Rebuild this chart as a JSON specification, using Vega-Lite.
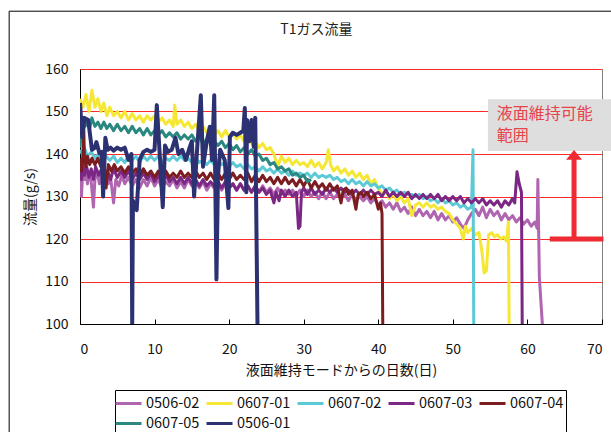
{
  "$schema": "https://vega.github.io/schema/vega-lite/v6.json",
  "width": 522,
  "height": 255,
  "autosize": {"type": "none"},
  "padding": {"left": 80, "top": 69, "right": 9, "bottom": 108},
  "background": "white",
  "config": {
    "font": "Noto Sans CJK JP",
    "view": {"stroke": "#808080"},
    "legend": {
      "orient": "none",
      "legendX": 35,
      "legendY": 321,
      "direction": "horizontal",
      "columns": 5,
      "symbolType": "M-1.3,0L1.3,0",
      "symbolSize": 400,
      "symbolStrokeWidth": 3,
      "labelFontSize": 14.5,
      "labelColor": "#111",
      "labelOffset": 6,
      "columnPadding": 0,
      "rowPadding": 2,
      "padding": 2,
      "strokeColor": "black"
    }
  },
  "datasets": {
    "ttl": [{"t": "T1ガス流量", "d": 31.7, "v": 169.2}],
    "border": [{"x1": -9.5, "x2": 76, "y1": 173.6, "y2": 60}],
    "box": [{"x1": 54.7, "x2": 72, "y1": 152.9, "y2": 140.7}],
    "notes": [{"t": "液面維持可能", "d": 55.9, "v": 149.45}, {"t": "範囲", "d": 55.9, "v": 144.2}],
    "hline": [{"d1": 63.0, "d2": 70.2, "v": 120}],
    "vline": [{"d": 66.25, "v1": 120, "v2": 139}],
    "head": [{"d": 66.25, "v": 139.8}],
    "flow": [
      {"s":"0506-02","d":0,"v":136},{"s":"0506-02","d":0.2,"v":130},{"s":"0506-02","d":0.4,"v":137},{"s":"0506-02","d":0.6,"v":134},{"s":"0506-02","d":0.8,"v":136.5},{"s":"0506-02","d":1.0,"v":133},{"s":"0506-02","d":1.2,"v":135.5},{"s":"0506-02","d":1.5,"v":133.5},{"s":"0506-02","d":1.8,"v":127.5},{"s":"0506-02","d":2.0,"v":134},{"s":"0506-02","d":2.3,"v":136},{"s":"0506-02","d":2.6,"v":133},{"s":"0506-02","d":2.9,"v":135},{"s":"0506-02","d":3.2,"v":132.5},{"s":"0506-02","d":3.5,"v":135.5},{"s":"0506-02","d":3.8,"v":133},{"s":"0506-02","d":4.1,"v":134.5},{"s":"0506-02","d":4.5,"v":128.5},{"s":"0506-02","d":4.8,"v":134},{"s":"0506-02","d":5.2,"v":132.5},{"s":"0506-02","d":5.6,"v":135},{"s":"0506-02","d":6.0,"v":133},{"s":"0506-02","d":6.5,"v":134.5},{"s":"0506-02","d":7.0,"v":132.5},{"s":"0506-02","d":7.5,"v":134},{"s":"0506-02","d":8.0,"v":132},{"s":"0506-02","d":8.5,"v":134},{"s":"0506-02","d":9.0,"v":132.5},{"s":"0506-02","d":9.5,"v":134.5},{"s":"0506-02","d":10,"v":132.5},{"s":"0506-02","d":10.5,"v":134},{"s":"0506-02","d":11,"v":132},{"s":"0506-02","d":11.5,"v":133.5},{"s":"0506-02","d":12,"v":132.5},{"s":"0506-02","d":12.5,"v":134},{"s":"0506-02","d":13,"v":132},{"s":"0506-02","d":13.5,"v":133.5},{"s":"0506-02","d":14,"v":132},{"s":"0506-02","d":14.5,"v":134},{"s":"0506-02","d":15,"v":132.5},{"s":"0506-02","d":15.5,"v":133.5},{"s":"0506-02","d":16,"v":132},{"s":"0506-02","d":16.5,"v":133.5},{"s":"0506-02","d":17,"v":131.5},{"s":"0506-02","d":17.5,"v":133},{"s":"0506-02","d":18,"v":132},{"s":"0506-02","d":18.5,"v":133.5},{"s":"0506-02","d":19,"v":131.5},{"s":"0506-02","d":19.5,"v":133},{"s":"0506-02","d":20,"v":132},{"s":"0506-02","d":20.5,"v":133},{"s":"0506-02","d":21,"v":131.5},{"s":"0506-02","d":21.5,"v":133},{"s":"0506-02","d":22,"v":131.5},{"s":"0506-02","d":22.5,"v":132.5},{"s":"0506-02","d":23,"v":131},{"s":"0506-02","d":23.5,"v":132.5},{"s":"0506-02","d":24,"v":131},{"s":"0506-02","d":24.5,"v":132.5},{"s":"0506-02","d":25,"v":131},{"s":"0506-02","d":25.5,"v":132},{"s":"0506-02","d":26,"v":130.5},{"s":"0506-02","d":26.5,"v":132},{"s":"0506-02","d":27,"v":130.5},{"s":"0506-02","d":27.5,"v":131.5},{"s":"0506-02","d":28,"v":130.5},{"s":"0506-02","d":28.5,"v":131.5},{"s":"0506-02","d":29,"v":130},{"s":"0506-02","d":29.5,"v":131.5},{"s":"0506-02","d":30,"v":130},{"s":"0506-02","d":30.5,"v":131.5},{"s":"0506-02","d":31,"v":130},{"s":"0506-02","d":31.5,"v":131},{"s":"0506-02","d":32,"v":129.5},{"s":"0506-02","d":32.5,"v":131},{"s":"0506-02","d":33,"v":129.5},{"s":"0506-02","d":33.5,"v":131},{"s":"0506-02","d":34,"v":129.5},{"s":"0506-02","d":34.5,"v":130.5},{"s":"0506-02","d":35,"v":129.5},{"s":"0506-02","d":35.5,"v":130.5},{"s":"0506-02","d":36,"v":129},{"s":"0506-02","d":36.5,"v":130.5},{"s":"0506-02","d":37,"v":129},{"s":"0506-02","d":37.5,"v":130},{"s":"0506-02","d":38,"v":129},{"s":"0506-02","d":38.5,"v":130},{"s":"0506-02","d":39,"v":128.5},{"s":"0506-02","d":39.5,"v":129.5},{"s":"0506-02","d":40,"v":128},{"s":"0506-02","d":40.5,"v":129},{"s":"0506-02","d":41,"v":127.5},{"s":"0506-02","d":41.5,"v":128.5},{"s":"0506-02","d":42,"v":127},{"s":"0506-02","d":42.5,"v":128.5},{"s":"0506-02","d":43,"v":126.5},{"s":"0506-02","d":43.5,"v":127.5},{"s":"0506-02","d":44,"v":126},{"s":"0506-02","d":44.5,"v":127.5},{"s":"0506-02","d":45,"v":125.5},{"s":"0506-02","d":45.5,"v":127},{"s":"0506-02","d":46,"v":125.5},{"s":"0506-02","d":46.5,"v":126.5},{"s":"0506-02","d":47,"v":125},{"s":"0506-02","d":47.5,"v":126.5},{"s":"0506-02","d":48,"v":124.5},{"s":"0506-02","d":48.5,"v":126},{"s":"0506-02","d":49,"v":124.5},{"s":"0506-02","d":49.5,"v":125.5},{"s":"0506-02","d":50,"v":124},{"s":"0506-02","d":50.5,"v":125},{"s":"0506-02","d":51,"v":123.5},{"s":"0506-02","d":51.5,"v":122.5},{"s":"0506-02","d":52,"v":124.5},{"s":"0506-02","d":52.5,"v":126},{"s":"0506-02","d":53,"v":127},{"s":"0506-02","d":53.5,"v":125.5},{"s":"0506-02","d":54,"v":127.5},{"s":"0506-02","d":54.5,"v":125},{"s":"0506-02","d":55,"v":127},{"s":"0506-02","d":55.5,"v":125.5},{"s":"0506-02","d":56,"v":126.5},{"s":"0506-02","d":56.5,"v":124.5},{"s":"0506-02","d":57,"v":126},{"s":"0506-02","d":57.5,"v":124.5},{"s":"0506-02","d":58,"v":125.5},{"s":"0506-02","d":58.5,"v":124},{"s":"0506-02","d":59,"v":125},{"s":"0506-02","d":59.5,"v":123.5},{"s":"0506-02","d":60,"v":124.5},{"s":"0506-02","d":60.5,"v":123},{"s":"0506-02","d":61,"v":124},{"s":"0506-02","d":61.3,"v":122.5},{"s":"0506-02","d":61.4,"v":134},{"s":"0506-02","d":61.6,"v":111},{"s":"0506-02","d":62,"v":100},

      {"s":"0607-01","d":0,"v":153},{"s":"0607-01","d":0.4,"v":151},{"s":"0607-01","d":0.8,"v":154},{"s":"0607-01","d":1.2,"v":150},{"s":"0607-01","d":1.6,"v":155},{"s":"0607-01","d":2.0,"v":151},{"s":"0607-01","d":2.4,"v":153},{"s":"0607-01","d":2.8,"v":150},{"s":"0607-01","d":3.2,"v":152},{"s":"0607-01","d":3.6,"v":149},{"s":"0607-01","d":4.0,"v":151},{"s":"0607-01","d":4.5,"v":149},{"s":"0607-01","d":5.0,"v":150},{"s":"0607-01","d":5.5,"v":148.5},{"s":"0607-01","d":6.0,"v":150},{"s":"0607-01","d":6.5,"v":148},{"s":"0607-01","d":7.0,"v":149.5},{"s":"0607-01","d":7.5,"v":148},{"s":"0607-01","d":8.0,"v":149},{"s":"0607-01","d":8.5,"v":147.5},{"s":"0607-01","d":9.0,"v":149},{"s":"0607-01","d":9.5,"v":148},{"s":"0607-01","d":10,"v":149},{"s":"0607-01","d":10.5,"v":147.5},{"s":"0607-01","d":11,"v":148.5},{"s":"0607-01","d":11.5,"v":147},{"s":"0607-01","d":12,"v":148},{"s":"0607-01","d":12.5,"v":146.5},{"s":"0607-01","d":12.7,"v":151.5},{"s":"0607-01","d":13,"v":147},{"s":"0607-01","d":13.5,"v":148},{"s":"0607-01","d":14,"v":146.5},{"s":"0607-01","d":14.5,"v":147.5},{"s":"0607-01","d":15,"v":146},{"s":"0607-01","d":15.5,"v":147},{"s":"0607-01","d":16,"v":145.5},{"s":"0607-01","d":16.5,"v":146.5},{"s":"0607-01","d":17,"v":145},{"s":"0607-01","d":17.5,"v":146},{"s":"0607-01","d":18,"v":144.5},{"s":"0607-01","d":18.5,"v":145.5},{"s":"0607-01","d":19,"v":144},{"s":"0607-01","d":19.5,"v":145.5},{"s":"0607-01","d":20,"v":144},{"s":"0607-01","d":20.5,"v":145},{"s":"0607-01","d":21,"v":143.5},{"s":"0607-01","d":21.5,"v":144.5},{"s":"0607-01","d":22,"v":143},{"s":"0607-01","d":22.5,"v":144},{"s":"0607-01","d":23,"v":142.5},{"s":"0607-01","d":23.5,"v":143},{"s":"0607-01","d":24,"v":141.5},{"s":"0607-01","d":24.5,"v":142.5},{"s":"0607-01","d":25,"v":141},{"s":"0607-01","d":25.5,"v":141.5},{"s":"0607-01","d":26,"v":140},{"s":"0607-01","d":26.5,"v":137},{"s":"0607-01","d":27,"v":139.5},{"s":"0607-01","d":27.5,"v":138},{"s":"0607-01","d":28,"v":139},{"s":"0607-01","d":28.5,"v":137.5},{"s":"0607-01","d":29,"v":138.5},{"s":"0607-01","d":29.5,"v":137.5},{"s":"0607-01","d":30,"v":138},{"s":"0607-01","d":30.5,"v":137},{"s":"0607-01","d":31,"v":138.5},{"s":"0607-01","d":31.5,"v":137},{"s":"0607-01","d":32,"v":138},{"s":"0607-01","d":32.5,"v":136.5},{"s":"0607-01","d":33,"v":138},{"s":"0607-01","d":33.3,"v":141},{"s":"0607-01","d":33.6,"v":137.5},{"s":"0607-01","d":34,"v":136},{"s":"0607-01","d":34.5,"v":137},{"s":"0607-01","d":35,"v":135.5},{"s":"0607-01","d":35.5,"v":136.5},{"s":"0607-01","d":36,"v":135},{"s":"0607-01","d":36.5,"v":136},{"s":"0607-01","d":37,"v":134.5},{"s":"0607-01","d":37.5,"v":135.5},{"s":"0607-01","d":38,"v":134},{"s":"0607-01","d":38.5,"v":135},{"s":"0607-01","d":39,"v":133},{"s":"0607-01","d":39.5,"v":134},{"s":"0607-01","d":40,"v":132},{"s":"0607-01","d":40.5,"v":130.5},{"s":"0607-01","d":41,"v":131.5},{"s":"0607-01","d":41.5,"v":129.5},{"s":"0607-01","d":42,"v":130.5},{"s":"0607-01","d":42.5,"v":129},{"s":"0607-01","d":43,"v":130},{"s":"0607-01","d":43.5,"v":128.5},{"s":"0607-01","d":44,"v":129.5},{"s":"0607-01","d":44.5,"v":125.5},{"s":"0607-01","d":45,"v":128},{"s":"0607-01","d":45.5,"v":128.5},{"s":"0607-01","d":46,"v":127.5},{"s":"0607-01","d":46.5,"v":128.5},{"s":"0607-01","d":47,"v":127.5},{"s":"0607-01","d":47.5,"v":128},{"s":"0607-01","d":48,"v":127},{"s":"0607-01","d":48.5,"v":127.5},{"s":"0607-01","d":49,"v":126.5},{"s":"0607-01","d":49.5,"v":126},{"s":"0607-01","d":50,"v":124.5},{"s":"0607-01","d":50.5,"v":123.5},{"s":"0607-01","d":51,"v":122.5},{"s":"0607-01","d":51.4,"v":120},{"s":"0607-01","d":51.7,"v":123},{"s":"0607-01","d":52,"v":121.5},{"s":"0607-01","d":52.5,"v":122.5},{"s":"0607-01","d":53,"v":121},{"s":"0607-01","d":53.5,"v":121.5},{"s":"0607-01","d":53.9,"v":117},{"s":"0607-01","d":54.2,"v":112},{"s":"0607-01","d":54.5,"v":112.5},{"s":"0607-01","d":54.8,"v":121},{"s":"0607-01","d":55.2,"v":121.5},{"s":"0607-01","d":55.6,"v":120.5},{"s":"0607-01","d":56,"v":121},{"s":"0607-01","d":56.4,"v":120},{"s":"0607-01","d":56.8,"v":120.5},{"s":"0607-01","d":57.2,"v":119.5},{"s":"0607-01","d":57.45,"v":124},{"s":"0607-01","d":57.55,"v":100},

      {"s":"0607-02","d":0,"v":141},{"s":"0607-02","d":0.3,"v":140},{"s":"0607-02","d":0.6,"v":141.5},{"s":"0607-02","d":1,"v":139.5},{"s":"0607-02","d":1.5,"v":140.5},{"s":"0607-02","d":2,"v":139},{"s":"0607-02","d":2.5,"v":140},{"s":"0607-02","d":3,"v":138.5},{"s":"0607-02","d":3.5,"v":139.5},{"s":"0607-02","d":4,"v":138.5},{"s":"0607-02","d":4.5,"v":139.5},{"s":"0607-02","d":5,"v":138},{"s":"0607-02","d":5.5,"v":139},{"s":"0607-02","d":6,"v":138},{"s":"0607-02","d":6.5,"v":139.5},{"s":"0607-02","d":7,"v":138.5},{"s":"0607-02","d":7.5,"v":139.5},{"s":"0607-02","d":8,"v":138},{"s":"0607-02","d":8.5,"v":139.5},{"s":"0607-02","d":9,"v":138.5},{"s":"0607-02","d":9.5,"v":139.5},{"s":"0607-02","d":10,"v":138.5},{"s":"0607-02","d":10.5,"v":139.5},{"s":"0607-02","d":11,"v":138},{"s":"0607-02","d":11.5,"v":139},{"s":"0607-02","d":12,"v":138.5},{"s":"0607-02","d":12.5,"v":139.5},{"s":"0607-02","d":13,"v":138.5},{"s":"0607-02","d":13.5,"v":139.5},{"s":"0607-02","d":14,"v":138.5},{"s":"0607-02","d":14.5,"v":139},{"s":"0607-02","d":15,"v":138},{"s":"0607-02","d":15.5,"v":139},{"s":"0607-02","d":16,"v":138},{"s":"0607-02","d":16.5,"v":138.5},{"s":"0607-02","d":17,"v":137.5},{"s":"0607-02","d":17.5,"v":138.5},{"s":"0607-02","d":18,"v":137.5},{"s":"0607-02","d":18.5,"v":138.5},{"s":"0607-02","d":19,"v":137.5},{"s":"0607-02","d":19.5,"v":138},{"s":"0607-02","d":20,"v":137},{"s":"0607-02","d":20.5,"v":138},{"s":"0607-02","d":21,"v":137},{"s":"0607-02","d":21.5,"v":137.5},{"s":"0607-02","d":22,"v":136.5},{"s":"0607-02","d":22.5,"v":137.5},{"s":"0607-02","d":23,"v":136.5},{"s":"0607-02","d":23.5,"v":137},{"s":"0607-02","d":24,"v":136},{"s":"0607-02","d":24.5,"v":137},{"s":"0607-02","d":25,"v":136},{"s":"0607-02","d":25.5,"v":136.5},{"s":"0607-02","d":26,"v":135.5},{"s":"0607-02","d":26.5,"v":136.5},{"s":"0607-02","d":27,"v":135.5},{"s":"0607-02","d":27.5,"v":136},{"s":"0607-02","d":28,"v":135},{"s":"0607-02","d":28.5,"v":136},{"s":"0607-02","d":29,"v":135},{"s":"0607-02","d":29.5,"v":135.5},{"s":"0607-02","d":30,"v":135},{"s":"0607-02","d":30.5,"v":135.5},{"s":"0607-02","d":31,"v":134.5},{"s":"0607-02","d":31.5,"v":135.5},{"s":"0607-02","d":32,"v":134.5},{"s":"0607-02","d":32.5,"v":135},{"s":"0607-02","d":33,"v":134.5},{"s":"0607-02","d":33.5,"v":135},{"s":"0607-02","d":34,"v":134},{"s":"0607-02","d":34.5,"v":134.5},{"s":"0607-02","d":35,"v":133.5},{"s":"0607-02","d":35.5,"v":134},{"s":"0607-02","d":36,"v":133},{"s":"0607-02","d":36.5,"v":134},{"s":"0607-02","d":37,"v":133},{"s":"0607-02","d":37.5,"v":133.5},{"s":"0607-02","d":38,"v":132.5},{"s":"0607-02","d":38.5,"v":133.5},{"s":"0607-02","d":39,"v":132.5},{"s":"0607-02","d":39.5,"v":133},{"s":"0607-02","d":40,"v":132},{"s":"0607-02","d":40.5,"v":132.5},{"s":"0607-02","d":41,"v":131.5},{"s":"0607-02","d":41.5,"v":132},{"s":"0607-02","d":42,"v":131},{"s":"0607-02","d":42.5,"v":131.5},{"s":"0607-02","d":43,"v":130.5},{"s":"0607-02","d":43.5,"v":131},{"s":"0607-02","d":44,"v":130.5},{"s":"0607-02","d":44.5,"v":130.5},{"s":"0607-02","d":45,"v":130},{"s":"0607-02","d":45.5,"v":130.5},{"s":"0607-02","d":46,"v":129.5},{"s":"0607-02","d":46.5,"v":130},{"s":"0607-02","d":47,"v":129},{"s":"0607-02","d":47.5,"v":129.5},{"s":"0607-02","d":48,"v":128.5},{"s":"0607-02","d":48.5,"v":129.5},{"s":"0607-02","d":49,"v":128.5},{"s":"0607-02","d":49.5,"v":129},{"s":"0607-02","d":50,"v":128},{"s":"0607-02","d":50.5,"v":128.5},{"s":"0607-02","d":51,"v":127.5},{"s":"0607-02","d":51.5,"v":128},{"s":"0607-02","d":52,"v":127},{"s":"0607-02","d":52.5,"v":127.5},{"s":"0607-02","d":52.7,"v":141},{"s":"0607-02","d":52.8,"v":100},

      {"s":"0607-03","d":0,"v":138},{"s":"0607-03","d":0.2,"v":134},{"s":"0607-03","d":0.4,"v":137.5},{"s":"0607-03","d":0.6,"v":135},{"s":"0607-03","d":0.9,"v":137},{"s":"0607-03","d":1.2,"v":134.5},{"s":"0607-03","d":1.5,"v":136.5},{"s":"0607-03","d":1.8,"v":134},{"s":"0607-03","d":2.1,"v":137},{"s":"0607-03","d":2.5,"v":135},{"s":"0607-03","d":2.9,"v":136.5},{"s":"0607-03","d":3.3,"v":134.5},{"s":"0607-03","d":3.7,"v":136},{"s":"0607-03","d":4.1,"v":134},{"s":"0607-03","d":4.5,"v":136.5},{"s":"0607-03","d":5,"v":134.5},{"s":"0607-03","d":5.5,"v":136},{"s":"0607-03","d":6,"v":134.5},{"s":"0607-03","d":6.5,"v":136},{"s":"0607-03","d":7,"v":134},{"s":"0607-03","d":7.5,"v":135.5},{"s":"0607-03","d":8,"v":134},{"s":"0607-03","d":8.5,"v":135.5},{"s":"0607-03","d":9,"v":134},{"s":"0607-03","d":9.5,"v":135.5},{"s":"0607-03","d":10,"v":133.5},{"s":"0607-03","d":10.5,"v":135},{"s":"0607-03","d":11,"v":133.5},{"s":"0607-03","d":11.5,"v":135},{"s":"0607-03","d":12,"v":133.5},{"s":"0607-03","d":12.5,"v":134.5},{"s":"0607-03","d":13,"v":133},{"s":"0607-03","d":13.5,"v":134.5},{"s":"0607-03","d":14,"v":133},{"s":"0607-03","d":14.5,"v":134.5},{"s":"0607-03","d":15,"v":133},{"s":"0607-03","d":15.5,"v":134},{"s":"0607-03","d":16,"v":132.5},{"s":"0607-03","d":16.5,"v":134},{"s":"0607-03","d":17,"v":132.5},{"s":"0607-03","d":17.5,"v":133.5},{"s":"0607-03","d":18,"v":132.5},{"s":"0607-03","d":18.5,"v":133.5},{"s":"0607-03","d":19,"v":132},{"s":"0607-03","d":19.5,"v":133.5},{"s":"0607-03","d":20,"v":132},{"s":"0607-03","d":20.5,"v":133},{"s":"0607-03","d":21,"v":131.5},{"s":"0607-03","d":21.5,"v":133},{"s":"0607-03","d":22,"v":131.5},{"s":"0607-03","d":22.5,"v":132.5},{"s":"0607-03","d":23,"v":131},{"s":"0607-03","d":23.5,"v":132.5},{"s":"0607-03","d":24,"v":131},{"s":"0607-03","d":24.5,"v":132},{"s":"0607-03","d":25,"v":130.5},{"s":"0607-03","d":25.5,"v":131.5},{"s":"0607-03","d":26,"v":128.5},{"s":"0607-03","d":26.3,"v":131},{"s":"0607-03","d":26.7,"v":129},{"s":"0607-03","d":27,"v":131.5},{"s":"0607-03","d":27.5,"v":130},{"s":"0607-03","d":28,"v":131.5},{"s":"0607-03","d":28.5,"v":130},{"s":"0607-03","d":29,"v":131},{"s":"0607-03","d":29.3,"v":122.5},{"s":"0607-03","d":29.5,"v":123},{"s":"0607-03","d":29.7,"v":131},{"s":"0607-03","d":30,"v":132},{"s":"0607-03","d":30.5,"v":130.5},{"s":"0607-03","d":31,"v":132},{"s":"0607-03","d":31.5,"v":130.5},{"s":"0607-03","d":32,"v":131.5},{"s":"0607-03","d":32.5,"v":130.5},{"s":"0607-03","d":33,"v":132},{"s":"0607-03","d":33.5,"v":131},{"s":"0607-03","d":34,"v":132},{"s":"0607-03","d":34.5,"v":131},{"s":"0607-03","d":35,"v":132},{"s":"0607-03","d":35.5,"v":131},{"s":"0607-03","d":36,"v":131.5},{"s":"0607-03","d":36.5,"v":130.5},{"s":"0607-03","d":37,"v":131.5},{"s":"0607-03","d":37.5,"v":130.5},{"s":"0607-03","d":38,"v":131.5},{"s":"0607-03","d":38.5,"v":130.5},{"s":"0607-03","d":39,"v":131.5},{"s":"0607-03","d":39.5,"v":130.5},{"s":"0607-03","d":40,"v":131},{"s":"0607-03","d":40.5,"v":130},{"s":"0607-03","d":41,"v":131.5},{"s":"0607-03","d":41.5,"v":130},{"s":"0607-03","d":42,"v":131},{"s":"0607-03","d":42.5,"v":130},{"s":"0607-03","d":43,"v":131},{"s":"0607-03","d":43.5,"v":130},{"s":"0607-03","d":44,"v":131},{"s":"0607-03","d":44.5,"v":129.5},{"s":"0607-03","d":45,"v":130.5},{"s":"0607-03","d":45.5,"v":129.5},{"s":"0607-03","d":46,"v":130.5},{"s":"0607-03","d":46.5,"v":129.5},{"s":"0607-03","d":47,"v":130.5},{"s":"0607-03","d":47.5,"v":129.5},{"s":"0607-03","d":48,"v":130.5},{"s":"0607-03","d":48.5,"v":129},{"s":"0607-03","d":49,"v":130},{"s":"0607-03","d":49.5,"v":129},{"s":"0607-03","d":50,"v":130},{"s":"0607-03","d":50.5,"v":129},{"s":"0607-03","d":51,"v":130},{"s":"0607-03","d":51.5,"v":128.5},{"s":"0607-03","d":52,"v":129.5},{"s":"0607-03","d":52.5,"v":128.5},{"s":"0607-03","d":53,"v":129.5},{"s":"0607-03","d":53.5,"v":128.5},{"s":"0607-03","d":54,"v":129.5},{"s":"0607-03","d":54.5,"v":128},{"s":"0607-03","d":55,"v":129},{"s":"0607-03","d":55.5,"v":128},{"s":"0607-03","d":56,"v":129},{"s":"0607-03","d":56.5,"v":127.5},{"s":"0607-03","d":57,"v":129},{"s":"0607-03","d":57.5,"v":128},{"s":"0607-03","d":58,"v":129.5},{"s":"0607-03","d":58.3,"v":128.5},{"s":"0607-03","d":58.6,"v":135.8},{"s":"0607-03","d":58.9,"v":133},{"s":"0607-03","d":59.2,"v":131},{"s":"0607-03","d":59.3,"v":100},

      {"s":"0607-04","d":0,"v":139},{"s":"0607-04","d":0.2,"v":136},{"s":"0607-04","d":0.4,"v":140},{"s":"0607-04","d":0.5,"v":146},{"s":"0607-04","d":0.6,"v":139},{"s":"0607-04","d":0.8,"v":137},{"s":"0607-04","d":1.0,"v":139.5},{"s":"0607-04","d":1.3,"v":137.5},{"s":"0607-04","d":1.6,"v":139},{"s":"0607-04","d":2,"v":137.5},{"s":"0607-04","d":2.4,"v":139},{"s":"0607-04","d":2.8,"v":137},{"s":"0607-04","d":3.2,"v":138.5},{"s":"0607-04","d":3.5,"v":132},{"s":"0607-04","d":3.8,"v":137.5},{"s":"0607-04","d":4.2,"v":136},{"s":"0607-04","d":4.6,"v":137.5},{"s":"0607-04","d":5,"v":136},{"s":"0607-04","d":5.5,"v":137},{"s":"0607-04","d":6,"v":135.5},{"s":"0607-04","d":6.5,"v":137},{"s":"0607-04","d":7,"v":135.5},{"s":"0607-04","d":7.5,"v":136.5},{"s":"0607-04","d":8,"v":135},{"s":"0607-04","d":8.5,"v":136.5},{"s":"0607-04","d":9,"v":135},{"s":"0607-04","d":9.5,"v":136},{"s":"0607-04","d":10,"v":134.5},{"s":"0607-04","d":10.5,"v":136},{"s":"0607-04","d":11,"v":134.5},{"s":"0607-04","d":11.5,"v":136},{"s":"0607-04","d":12,"v":134.5},{"s":"0607-04","d":12.5,"v":135.5},{"s":"0607-04","d":13,"v":134.5},{"s":"0607-04","d":13.5,"v":136},{"s":"0607-04","d":14,"v":134.5},{"s":"0607-04","d":14.5,"v":135.5},{"s":"0607-04","d":15,"v":134.5},{"s":"0607-04","d":15.5,"v":136},{"s":"0607-04","d":16,"v":134.5},{"s":"0607-04","d":16.5,"v":135.5},{"s":"0607-04","d":17,"v":134},{"s":"0607-04","d":17.5,"v":135.5},{"s":"0607-04","d":18,"v":134},{"s":"0607-04","d":18.5,"v":135.5},{"s":"0607-04","d":19,"v":134},{"s":"0607-04","d":19.5,"v":135.5},{"s":"0607-04","d":20,"v":134},{"s":"0607-04","d":20.5,"v":135.5},{"s":"0607-04","d":21,"v":134},{"s":"0607-04","d":21.5,"v":135},{"s":"0607-04","d":22,"v":134},{"s":"0607-04","d":22.5,"v":135.5},{"s":"0607-04","d":23,"v":133.5},{"s":"0607-04","d":23.5,"v":135},{"s":"0607-04","d":24,"v":133.5},{"s":"0607-04","d":24.5,"v":135},{"s":"0607-04","d":25,"v":133.5},{"s":"0607-04","d":25.5,"v":134.5},{"s":"0607-04","d":26,"v":133},{"s":"0607-04","d":26.5,"v":134.5},{"s":"0607-04","d":27,"v":133},{"s":"0607-04","d":27.5,"v":134.5},{"s":"0607-04","d":28,"v":133},{"s":"0607-04","d":28.5,"v":134},{"s":"0607-04","d":29,"v":132.5},{"s":"0607-04","d":29.5,"v":134},{"s":"0607-04","d":30,"v":132.5},{"s":"0607-04","d":30.5,"v":134},{"s":"0607-04","d":31,"v":132},{"s":"0607-04","d":31.5,"v":133.5},{"s":"0607-04","d":32,"v":132},{"s":"0607-04","d":32.5,"v":133},{"s":"0607-04","d":33,"v":131.5},{"s":"0607-04","d":33.5,"v":133},{"s":"0607-04","d":34,"v":131.5},{"s":"0607-04","d":34.5,"v":132.5},{"s":"0607-04","d":35,"v":128.5},{"s":"0607-04","d":35.3,"v":131.5},{"s":"0607-04","d":35.7,"v":132},{"s":"0607-04","d":36,"v":130.5},{"s":"0607-04","d":36.5,"v":131.5},{"s":"0607-04","d":37,"v":127},{"s":"0607-04","d":37.3,"v":130.5},{"s":"0607-04","d":37.7,"v":131},{"s":"0607-04","d":38,"v":130},{"s":"0607-04","d":38.5,"v":131},{"s":"0607-04","d":39,"v":129.5},{"s":"0607-04","d":39.5,"v":130.5},{"s":"0607-04","d":40,"v":127},{"s":"0607-04","d":40.3,"v":128.5},{"s":"0607-04","d":40.5,"v":126},{"s":"0607-04","d":40.6,"v":100},

      {"s":"0607-05","d":0,"v":141.5},{"s":"0607-05","d":0.2,"v":146},{"s":"0607-05","d":0.4,"v":148.5},{"s":"0607-05","d":0.7,"v":146.5},{"s":"0607-05","d":1.0,"v":148},{"s":"0607-05","d":1.3,"v":146},{"s":"0607-05","d":1.6,"v":148.5},{"s":"0607-05","d":2.0,"v":146.5},{"s":"0607-05","d":2.4,"v":147.5},{"s":"0607-05","d":2.8,"v":146},{"s":"0607-05","d":3.2,"v":147.5},{"s":"0607-05","d":3.6,"v":146},{"s":"0607-05","d":4.0,"v":147},{"s":"0607-05","d":4.5,"v":145.5},{"s":"0607-05","d":5.0,"v":147},{"s":"0607-05","d":5.5,"v":145.5},{"s":"0607-05","d":6,"v":146.5},{"s":"0607-05","d":6.5,"v":145},{"s":"0607-05","d":7,"v":146.5},{"s":"0607-05","d":7.5,"v":145},{"s":"0607-05","d":8,"v":146},{"s":"0607-05","d":8.5,"v":144.5},{"s":"0607-05","d":9,"v":146},{"s":"0607-05","d":9.5,"v":144.5},{"s":"0607-05","d":10,"v":145.5},{"s":"0607-05","d":10.5,"v":144.5},{"s":"0607-05","d":11,"v":145.5},{"s":"0607-05","d":11.5,"v":144},{"s":"0607-05","d":12,"v":145},{"s":"0607-05","d":12.5,"v":144},{"s":"0607-05","d":13,"v":145},{"s":"0607-05","d":13.5,"v":143.5},{"s":"0607-05","d":14,"v":144.5},{"s":"0607-05","d":14.5,"v":143.5},{"s":"0607-05","d":15,"v":144.5},{"s":"0607-05","d":15.5,"v":143},{"s":"0607-05","d":16,"v":144},{"s":"0607-05","d":16.5,"v":142.5},{"s":"0607-05","d":17,"v":143.5},{"s":"0607-05","d":17.5,"v":142.5},{"s":"0607-05","d":18,"v":143},{"s":"0607-05","d":18.5,"v":142},{"s":"0607-05","d":19,"v":143},{"s":"0607-05","d":19.5,"v":141.5},{"s":"0607-05","d":20,"v":142.5},{"s":"0607-05","d":20.5,"v":141},{"s":"0607-05","d":21,"v":142},{"s":"0607-05","d":21.5,"v":140.5},{"s":"0607-05","d":22,"v":141.5},{"s":"0607-05","d":22.5,"v":140},{"s":"0607-05","d":23,"v":141},{"s":"0607-05","d":23.5,"v":139.5},{"s":"0607-05","d":24,"v":140},{"s":"0607-05","d":24.5,"v":138.5},{"s":"0607-05","d":25,"v":139},{"s":"0607-05","d":25.5,"v":137.5},{"s":"0607-05","d":26,"v":138},{"s":"0607-05","d":26.5,"v":136.5},{"s":"0607-05","d":27,"v":137},{"s":"0607-05","d":27.5,"v":136},{"s":"0607-05","d":28,"v":136.5},{"s":"0607-05","d":28.5,"v":135},{"s":"0607-05","d":29,"v":135.5},{"s":"0607-05","d":29.5,"v":134.5},{"s":"0607-05","d":30,"v":135},{"s":"0607-05","d":30.5,"v":133.5},{"s":"0607-05","d":31,"v":134},

      {"s":"0506-01","d":0,"v":152},{"s":"0506-01","d":0.3,"v":144},{"s":"0506-01","d":0.6,"v":148.5},{"s":"0506-01","d":1.1,"v":148},{"s":"0506-01","d":1.6,"v":141},{"s":"0506-01","d":2.0,"v":141.5},{"s":"0506-01","d":2.2,"v":142.8},{"s":"0506-01","d":2.6,"v":140.2},{"s":"0506-01","d":2.9,"v":140.5},{"s":"0506-01","d":3.1,"v":130},{"s":"0506-01","d":3.4,"v":143.8},{"s":"0506-01","d":3.7,"v":141},{"s":"0506-01","d":4.1,"v":141.5},{"s":"0506-01","d":4.5,"v":140.8},{"s":"0506-01","d":5.0,"v":141.5},{"s":"0506-01","d":5.5,"v":141},{"s":"0506-01","d":6.0,"v":141.5},{"s":"0506-01","d":6.5,"v":138.6},{"s":"0506-01","d":6.9,"v":140},{"s":"0506-01","d":7.0,"v":100},{"s":"0506-01","d":7.1,"v":129},{"s":"0506-01","d":7.6,"v":126.8},{"s":"0506-01","d":8.0,"v":138.6},{"s":"0506-01","d":8.5,"v":140.5},{"s":"0506-01","d":9.0,"v":141},{"s":"0506-01","d":9.5,"v":140.5},{"s":"0506-01","d":10.0,"v":141},{"s":"0506-01","d":10.3,"v":151.5},{"s":"0506-01","d":10.6,"v":142.6},{"s":"0506-01","d":11.1,"v":127.5},{"s":"0506-01","d":11.4,"v":142},{"s":"0506-01","d":11.8,"v":140.5},{"s":"0506-01","d":12.3,"v":141},{"s":"0506-01","d":12.8,"v":143.8},{"s":"0506-01","d":13.2,"v":140},{"s":"0506-01","d":13.7,"v":141},{"s":"0506-01","d":14.2,"v":138.6},{"s":"0506-01","d":14.7,"v":141.5},{"s":"0506-01","d":15.0,"v":143},{"s":"0506-01","d":15.3,"v":130},{"s":"0506-01","d":15.7,"v":141},{"s":"0506-01","d":16.2,"v":153.8},{"s":"0506-01","d":16.5,"v":137},{"s":"0506-01","d":17.0,"v":143},{"s":"0506-01","d":17.4,"v":146.4},{"s":"0506-01","d":17.7,"v":138.6},{"s":"0506-01","d":18.0,"v":153.8},{"s":"0506-01","d":18.3,"v":110.5},{"s":"0506-01","d":18.5,"v":134.6},{"s":"0506-01","d":18.8,"v":141},{"s":"0506-01","d":19.4,"v":138.6},{"s":"0506-01","d":19.9,"v":127.3},{"s":"0506-01","d":20.1,"v":144},{"s":"0506-01","d":20.5,"v":145},{"s":"0506-01","d":21.0,"v":144.5},{"s":"0506-01","d":21.5,"v":145},{"s":"0506-01","d":21.9,"v":145.5},{"s":"0506-01","d":22.1,"v":150.8},{"s":"0506-01","d":22.3,"v":131},{"s":"0506-01","d":22.4,"v":148},{"s":"0506-01","d":22.7,"v":143},{"s":"0506-01","d":23.0,"v":148},{"s":"0506-01","d":23.3,"v":141.7},{"s":"0506-01","d":23.5,"v":148.5},{"s":"0506-01","d":23.8,"v":100}
    ]
  },
  "layer": [
    {
      "data": {"name": "flow"},
      "mark": {"type": "line", "clip": true, "strokeJoin": "round"},
      "encoding": {
        "x": {"field": "d", "type": "quantitative", "scale": {"domain": [0, 70], "nice": false, "zero": false},
          "axis": {"values": [0, 10, 20, 30, 40, 50, 60, 70], "grid": false, "domainColor": "black", "tickColor": "black", "tickSize": -5, "labelPadding": 23, "labelFontSize": 14, "labelColor": "#111", "title": "液面維持モードからの日数(日)", "titleFontSize": 14, "titleFontWeight": "normal", "titleColor": "#111", "titlePadding": 7}},
        "y": {"field": "v", "type": "quantitative", "scale": {"domain": [100, 160], "nice": false, "zero": false},
          "axis": {"values": [100, 110, 120, 130, 140, 150, 160], "grid": true, "gridColor": "#ff2a2a", "gridWidth": 1, "domainColor": "black", "ticks": false, "labelPadding": 12, "labelFontSize": 14, "labelColor": "#111", "title": "流量(g/s)", "titleFontSize": 14, "titleFontWeight": "normal", "titleColor": "#111", "titlePadding": 7}},
        "color": {"field": "s", "type": "nominal", "title": null,
          "scale": {"domain": ["0506-02", "0607-01", "0607-02", "0607-03", "0607-04", "0607-05", "0506-01"],
            "range": ["#b065b0", "#f5e734", "#5cc9d7", "#7b2884", "#7b1c20", "#2a8880", "#2c3172"]}},
        "strokeWidth": {"condition": {"test": "datum.s === '0506-01'", "value": 4}, "value": 3}
      }
    },
    {
      "data": {"name": "border"},
      "mark": {"type": "rect", "fill": null, "fillOpacity": 0, "stroke": "black", "strokeWidth": 1, "clip": false},
      "encoding": {
        "x": {"field": "x1", "type": "quantitative", "scale": {"domain": [0, 70], "nice": false, "zero": false}},
        "x2": {"field": "x2"},
        "y": {"field": "y1", "type": "quantitative", "scale": {"domain": [100, 160], "nice": false, "zero": false}},
        "y2": {"field": "y2"}
      }
    },
    {
      "data": {"name": "ttl"},
      "mark": {"type": "text", "align": "center", "baseline": "middle", "fontSize": 14, "color": "#222", "clip": false},
      "encoding": {
        "x": {"field": "d", "type": "quantitative", "scale": {"domain": [0, 70], "nice": false, "zero": false}},
        "y": {"field": "v", "type": "quantitative", "scale": {"domain": [100, 160], "nice": false, "zero": false}},
        "text": {"field": "t"}
      }
    },
    {
      "data": {"name": "box"},
      "mark": {"type": "rect", "fill": "#dedede", "clip": false},
      "encoding": {
        "x": {"field": "x1", "type": "quantitative", "scale": {"domain": [0, 70], "nice": false, "zero": false}},
        "x2": {"field": "x2"},
        "y": {"field": "y1", "type": "quantitative", "scale": {"domain": [100, 160], "nice": false, "zero": false}},
        "y2": {"field": "y2"}
      }
    },
    {
      "data": {"name": "notes"},
      "mark": {"type": "text", "align": "left", "baseline": "middle", "fontSize": 16, "color": "#e8424a", "clip": false},
      "encoding": {
        "x": {"field": "d", "type": "quantitative", "scale": {"domain": [0, 70], "nice": false, "zero": false}},
        "y": {"field": "v", "type": "quantitative", "scale": {"domain": [100, 160], "nice": false, "zero": false}},
        "text": {"field": "t"}
      }
    },
    {
      "data": {"name": "hline"},
      "mark": {"type": "rule", "color": "#ee2b33", "strokeWidth": 5, "clip": false},
      "encoding": {
        "x": {"field": "d1", "type": "quantitative", "scale": {"domain": [0, 70], "nice": false, "zero": false}},
        "x2": {"field": "d2"},
        "y": {"field": "v", "type": "quantitative", "scale": {"domain": [100, 160], "nice": false, "zero": false}}
      }
    },
    {
      "data": {"name": "vline"},
      "mark": {"type": "rule", "color": "#ee2b33", "strokeWidth": 5},
      "encoding": {
        "x": {"field": "d", "type": "quantitative", "scale": {"domain": [0, 70], "nice": false, "zero": false}},
        "y": {"field": "v1", "type": "quantitative", "scale": {"domain": [100, 160], "nice": false, "zero": false}},
        "y2": {"field": "v2"}
      }
    },
    {
      "data": {"name": "head"},
      "mark": {"type": "point", "shape": "M0,-0.6L1,0.6L-1,0.6Z", "size": 256, "filled": true, "color": "#ee2b33", "opacity": 1},
      "encoding": {
        "x": {"field": "d", "type": "quantitative", "scale": {"domain": [0, 70], "nice": false, "zero": false}},
        "y": {"field": "v", "type": "quantitative", "scale": {"domain": [100, 160], "nice": false, "zero": false}}
      }
    }
  ]
}
